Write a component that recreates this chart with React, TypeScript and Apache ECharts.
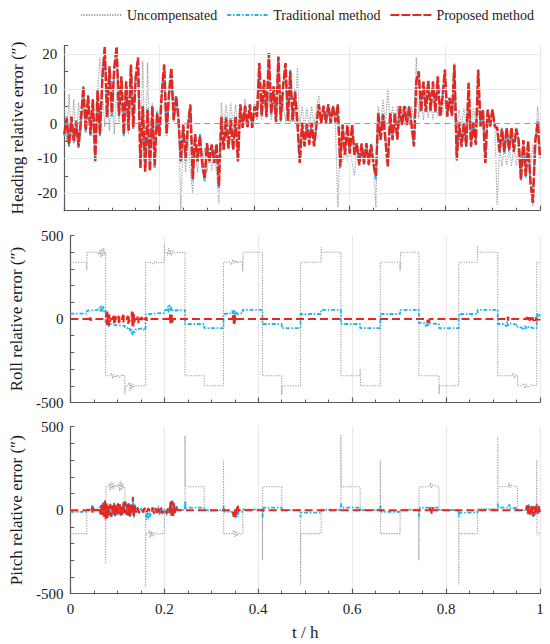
import React, { useEffect, useRef } from "react";
import * as echarts from "echarts";

const FONT = "'Liberation Serif', 'Times New Roman', serif";
const C_UNC = "#a2a2a2";
const C_TRAD = "#1fb4ef";
const C_PROP = "#e8261d";

const seriesNames = ["Uncompensated", "Traditional method", "Proposed method"];
const xTickLabels = ["0", "0.2", "0.4", "0.6", "0.8", "1"];
const panelNames = ["Heading relative error (″)", "Roll relative error (″)", "Pitch relative error (″)"];
const headingGridValues = [-20, -10, 10, 20];

// Heading: sampled every 0.005 h (201 samples, t = 0 … 1)
const headingStep = 0.005;
const headingUncompensated = [
  5, -5, 8.5, -4, 7, -5, 6, -3, 10, -2,
  8, -3.5, 6.5, -9, 9, 19, 10, -1, 9.5, -2,
  10, -3, 9, 0, 12, -2.5, 11, -3, 13, -1.5,
  12, 15, -11, 18, -12.5, 17.5, -12, 6, -11.5, 4,
  -3, 8.5, 12, -3, 8, 10, 0.5, 7.5, 1, -24.7,
  -3, -14, -3.5, -13.5, -20, -7, -14, -7.5, -13.5, -7,
  -14, -7, -13.5, -7.5, -14, -23, 6, -1, 5.5, -1,
  6, -1, 5.5, -1.5, 5, -1, 7, -1, 5, -1,
  5, 1, 8, 1, 7.5, 1.5, 8, 1, 7, 0,
  7, 0, 6.5, 0.5, 7, 0, 6, 0, 16, -1,
  5, -1, 4.5, -1, 5, -0.5, 4.5, 8, 0, 5.5,
  0, 5.5, 0.5, 5, 0, -24, -6, -11, -6.5, -10.8,
  -6, -11, -15, -6, -12, -6, -11.5, -6, -12, -6.5,
  -11.5, -24, 5, -1, 7, -1, 10, -0.5, 5, -1,
  5, -0.5, 5, -0.3, 4.8, -0.5, 5, 1, 19, 1.5,
  7, 1, 7.5, 1.5, 7, 1, 6.5, 2, 7, 2.5,
  7, 2, 7.5, 2, 17.4, -1, 4, -1, 4.5, -0.5,
  4, -1, 4.5, -0.5, 4, -0.8, 4, -1, 4.2, -0.8,
  4, -0.5, -23.3, -6.5, -12.3, -6.5, -12, -7, -12.3, -6.5,
  -12, -5, -12, -5.5, -11.5, -5, -12, -6, -11, 5, -3,
];
const headingTraditional = [
  -3.5, 2, -6.8, 2, -5.5, 1, -7, 1, 10.8, -2.5,
  8.3, -3.6, 7, -10.5, 9.8, -3.6, 13.6, 21, 1.6, 16,
  2, 15.5, 21.5, 2, 13.6, -3.6, 12.5, -2, 16.5, -1.5,
  13.6, 18.5, -12.5, 5, -14, 4.5, -13.5, 5, -12.7, 3.5,
  -3.6, 8.8, 16.5, -3.5, 8, 15.5, 1, 7.9, 1, -11,
  -0.5, -10.8, -0.3, 5, -16.5, -3, -11, -3, -11.5, -16.5,
  -5.6, -11.3, -6, -11, -6, -18.5, 1.5, -7.8, 2, -7.5,
  1.5, -7.5, 2, -11, 5.5, -1.2, 5.5, -1.2, 5, -1,
  5.5, 2.1, 17, 2, 12.6, 2.1, 20, 2.5, 10.7, 0.7,
  19, 0.7, 10.7, 17, 1, 15.5, 0.5, 9.5, 0.2, -11,
  0.5, -6.5, 0.2, -6.2, 0.5, -6.5, -0.3, 5.5, 0, 5.2,
  0.2, 5.5, 0, 5.2, 0.3, 5.5, -12.8, -0.3, -9, -0.5,
  -8.9, -0.5, -9, -5.6, -12, -5.6, -11.8, -5.5, -12, -5.8,
  -11.8, -16, 3, -4.8, 3, -4.6, -12, 3, -4.8, 3,
  -4.6, 5, -0.5, 5.2, -0.5, 5, -0.5, -6.8, 12.5, 14.5,
  3.5, 12.2, 3.3, 12.5, 3.5, 12.2, 3.3, 13.2, 2.1, 7.5,
  15, 2.1, 7.5, 2, 16.5, -10.8, 0.5, -6.8, 0.2, -6.8,
  11.2, -6.8, 0.5, -6.2, 15, -1, 4.2, -11.5, 4.2, -1,
  4.2, -1, -1.5, -8.5, -1.2, -8.6, -1.5, -8, -1.5, -8.3,
  -1.2, -5, -16.5, -5, -15.5, -5.5, -17, -23.5, -5.3, 0.8, -9.5,
];
const headingProposed = [
  -3, 1.5, -6, 2, -5, 0.5, -6.5, 1, 10.5, -2,
  8, -3, 7, -10.8, 9.5, -3, 13, 22, 2, 16.5,
  3, 16, 22, 2.5, 13.5, -3, 12, -2, 17, -1,
  13, 19, -12.7, 5, -13.7, 4, -13.7, 5, -12, 3,
  -3.5, 9, 17, -3, 8.5, 16, 1, 8, 1.5, -10.8,
  -0.3, -10, -0.5, 5.5, -16, -3, -10.8, -3.5, -11.3, -16,
  -5.6, -11, -6, -11.3, -5.8, -18, 2, -7.5, 1.5, -7,
  1, -7.5, 2, -10.8, 5.5, -1.2, 5, -1, 5.5, -1.2,
  5, 2, 17.4, 2.5, 12.6, 2, 20.3, 3, 10.7, 0.5,
  19.3, 1, 10.5, 17.4, 0.8, 15, 1, 9, 0.5, -11.3,
  0.2, -6.5, 0, -6, 0.2, -6.5, -0.5, 5.5, 0.2, 5,
  0.3, 5.5, 0.2, 5, 0.5, 5.5, -12.3, -0.3, -8.9, -0.5,
  -8.5, -0.3, -8.9, -5.6, -11.8, -5.8, -11.5, -5.6, -11.8, -6,
  -11.5, -15, 3, -4.6, 2.5, -4.5, -12.3, 3, -4.6, 2.8,
  -4.5, 5, -0.3, 5, -0.3, 4.8, -0.3, -6.5, 12.2, 15,
  3.5, 12, 3.5, 12.2, 3.8, 12, 3.5, 13.6, 2, 7.4,
  15.5, 2, 7.4, 2.2, 17, -10.3, 0.2, -6.5, 0, -6.5,
  11.7, -6.5, 0.2, -6, 15.5, -0.8, 4, -11.3, 4, -0.8,
  4, -0.8, -1.2, -8, -1.5, -8, -1.2, -7.5, -1.2, -8,
  -1.5, -4.7, -16, -4.7, -15, -5, -16.8, -22.8, -5, 0.3, -9.8,
];

// Roll: [t (h), error (″)]
const rollUncompensated = [
  [0, 340], [0.034, 340], [0.035, 290],
  [0.0355, 400], [0.058, 400], [0.061, 385], [0.063, 415], [0.065, 370], [0.067, 420], [0.069, 378], [0.071, 425], [0.073, 385], [0.075, 400],
  [0.075, -340], [0.085, -340], [0.088, -325], [0.09, -355], [0.093, -330], [0.096, -350], [0.1, -335], [0.105, -350], [0.11, -330], [0.114, -345], [0.116, -340], [0.116, -450],
  [0.117, -400], [0.122, -400], [0.125, -380], [0.127, -430], [0.129, -385], [0.131, -420], [0.133, -390], [0.136, -405], [0.14, -400], [0.16, -400],
  [0.16, 340], [0.17, 340], [0.175, 330], [0.18, 345], [0.185, 335], [0.2, 340], [0.2, 446],
  [0.201, 400], [0.205, 400], [0.207, 380], [0.209, 425], [0.211, 385], [0.213, 415], [0.215, 380], [0.218, 410], [0.222, 395], [0.244, 400],
  [0.244, -340], [0.285, -340],
  [0.285, -400], [0.326, -400],
  [0.326, 340], [0.34, 340], [0.343, 325], [0.346, 355], [0.349, 330], [0.352, 350], [0.355, 335], [0.358, 345], [0.366, 340], [0.367, 286],
  [0.368, 400], [0.409, 400],
  [0.409, -340], [0.45, -340], [0.45, -454],
  [0.451, -400], [0.49, -400],
  [0.49, 340], [0.534, 340], [0.534, 430],
  [0.535, 400], [0.576, 400],
  [0.576, -340], [0.617, -340], [0.617, -300],
  [0.618, -400], [0.66, -400],
  [0.66, 340], [0.702, 340], [0.702, 290],
  [0.703, 400], [0.742, 400],
  [0.742, -340], [0.785, -340], [0.785, -450],
  [0.786, -400], [0.827, -400],
  [0.827, 340], [0.867, 340], [0.867, 440],
  [0.868, 400], [0.91, 400],
  [0.91, -340], [0.94, -340], [0.943, -325], [0.946, -355], [0.949, -335], [0.952, -340],
  [0.952, -400], [0.96, -400], [0.965, -385], [0.968, -415], [0.971, -390], [0.975, -410], [0.98, -395], [0.993, -400],
  [0.993, 340], [1, 340],
];
const rollTraditional = [
  [0, 32], [0.035, 32],
  [0.035, 50], [0.05, 52], [0.058, 55], [0.062, 70], [0.064, 45], [0.066, 80], [0.068, 40], [0.07, 75], [0.072, 45], [0.075, 55],
  [0.075, -30], [0.08, -20], [0.082, -45], [0.085, -30], [0.09, -32], [0.1, -38], [0.11, -40], [0.116, -42],
  [0.116, -50], [0.122, -55], [0.125, -50], [0.128, -75], [0.13, -60], [0.132, -95], [0.134, -65], [0.136, -85], [0.14, -60], [0.15, -58], [0.155, -55], [0.157, -70], [0.16, -55],
  [0.16, 28], [0.17, 30], [0.18, 32], [0.19, 35], [0.2, 35],
  [0.2, 50], [0.205, 55], [0.207, 75], [0.209, 40], [0.211, 85], [0.213, 45], [0.215, 70], [0.218, 50], [0.244, 55],
  [0.244, -30], [0.285, -30],
  [0.285, -55], [0.326, -55],
  [0.326, 30], [0.34, 32], [0.345, 50], [0.347, 15], [0.349, 55], [0.351, 10], [0.353, 45], [0.355, 30], [0.367, 35],
  [0.367, 55], [0.409, 55],
  [0.409, -30], [0.45, -30],
  [0.45, -55], [0.49, -55],
  [0.49, 30], [0.534, 30],
  [0.534, 55], [0.576, 55],
  [0.576, -30], [0.617, -30],
  [0.617, -55], [0.66, -55],
  [0.66, 30], [0.702, 30],
  [0.702, 55], [0.742, 55],
  [0.742, -25], [0.755, -25], [0.757, -45], [0.759, -15], [0.761, -40], [0.763, -25], [0.785, -30],
  [0.785, -55], [0.827, -55],
  [0.827, 30], [0.867, 30],
  [0.867, 55], [0.91, 55],
  [0.91, -30], [0.925, -30], [0.928, -45], [0.93, -15], [0.932, -40], [0.935, -25], [0.952, -35],
  [0.952, -50], [0.96, -50], [0.965, -65], [0.968, -40], [0.972, -60], [0.976, -45], [0.985, -55], [0.993, -55],
  [0.993, 20], [0.995, 35], [0.997, 10], [1, 30],
];
const rollProposed = [
  [0, 0], [0.04, 0], [0.041, 12], [0.042, -10], [0.043, 10], [0.044, -8], [0.046, 0], [0.075, 0],
  [0.077, 40], [0.078, -35], [0.079, 45], [0.08, -30], [0.081, 30], [0.082, -40], [0.083, 25], [0.084, -20], [0.086, 0], [0.09, 0],
  [0.092, 25], [0.093, -25], [0.094, 20], [0.095, -30], [0.096, 15], [0.098, 0], [0.1, 0],
  [0.102, 20], [0.103, -25], [0.104, 15], [0.105, -20], [0.107, 0], [0.11, 0],
  [0.112, 25], [0.113, -20], [0.114, 20], [0.116, 0], [0.12, 0],
  [0.122, 20], [0.123, -30], [0.124, 25], [0.125, -20], [0.127, 0], [0.13, 0],
  [0.131, 45], [0.132, -50], [0.133, 40], [0.134, -45], [0.135, 30], [0.136, -20], [0.138, 0], [0.142, 0],
  [0.144, 20], [0.145, -25], [0.146, 15], [0.148, 0], [0.15, 0], [0.152, 12], [0.153, -15], [0.155, 0], [0.16, 0],
  [0.162, 10], [0.163, -10], [0.165, 0], [0.21, 0],
  [0.212, 30], [0.213, -35], [0.214, 35], [0.215, -30], [0.216, 25], [0.217, -20], [0.219, 0], [0.345, 0],
  [0.347, 30], [0.348, -30], [0.349, 25], [0.35, -25], [0.351, 20], [0.353, 0], [0.76, 0],
  [0.761, -25], [0.762, -5], [0.763, -30], [0.765, 0], [0.93, 0],
  [0.931, 15], [0.932, -10], [0.933, 12], [0.935, 0], [0.97, 0],
  [0.972, 12], [0.974, -12], [0.976, 10], [0.978, -10], [0.98, 12], [0.982, -8], [0.984, 10], [0.986, -12],
  [0.988, 8], [0.99, -10], [0.992, 10], [0.994, -8], [0.996, 8], [0.998, -6], [1, 0],
];

// Pitch: [t (h), error (″)]
const pitchUncompensated = [
  [0, -140], [0.035, -140], [0.035, 5], [0.075, 5], [0.075, -320],
  [0.0755, 140], [0.08, 140], [0.083, 160], [0.085, 120], [0.087, 170], [0.089, 125], [0.091, 165], [0.093, 130], [0.095, 150], [0.1, 140],
  [0.103, 165], [0.105, 115], [0.107, 175], [0.109, 120], [0.111, 160], [0.113, 135], [0.116, 140], [0.116, 5], [0.16, 5], [0.16, -460],
  [0.1605, -140], [0.165, -140], [0.168, -120], [0.17, -165], [0.172, -125], [0.174, -160], [0.176, -130], [0.178, -150], [0.182, -135],
  [0.185, -145], [0.19, -140], [0.2, -140], [0.2, 5], [0.244, 5], [0.244, 446],
  [0.2445, 140], [0.285, 140], [0.285, -5], [0.326, -5], [0.326, 300],
  [0.3265, -140], [0.345, -140], [0.348, -120], [0.35, -160], [0.352, -125], [0.355, -155], [0.358, -135], [0.362, -145], [0.367, -140],
  [0.367, 5], [0.409, 5], [0.409, -300], [0.4095, 140], [0.45, 140], [0.45, 0], [0.49, 0], [0.49, -450],
  [0.4905, -140], [0.534, -140], [0.534, 5], [0.576, 5], [0.576, 450], [0.5765, 140], [0.617, 140], [0.617, 0],
  [0.66, 0], [0.66, 300], [0.6605, -140], [0.702, -140], [0.702, 5], [0.742, 5], [0.742, -300],
  [0.7425, 140], [0.765, 140], [0.767, 165], [0.769, 130], [0.771, 150], [0.785, 140], [0.785, 0], [0.827, 0], [0.827, -450],
  [0.8275, -140], [0.867, -140], [0.867, 8], [0.91, 8], [0.91, 440],
  [0.9105, 140], [0.932, 140], [0.934, 165], [0.936, 135], [0.938, 150], [0.952, 140], [0.952, 0], [0.993, 0], [0.993, 300],
  [0.9935, -140], [0.996, -150], [1, -130],
];
const pitchTraditional = [
  [0, -10], [0.035, -10], [0.035, 3], [0.045, 3], [0.046, 30], [0.047, -10], [0.048, 25], [0.05, 3], [0.06, 3],
  [0.062, 20], [0.064, -20], [0.066, 35], [0.068, -15], [0.07, 40], [0.072, -25], [0.074, 60], [0.075, -40],
  [0.077, 45], [0.079, -50], [0.081, 30], [0.083, -35], [0.085, 40], [0.087, -45], [0.089, 30], [0.091, -30],
  [0.093, 50], [0.095, -40], [0.097, 35], [0.099, -30], [0.101, 45], [0.103, -25], [0.105, 40], [0.107, -35],
  [0.109, 30], [0.111, -30], [0.113, 50], [0.115, -20], [0.117, 55], [0.119, -30], [0.121, 40], [0.123, -35],
  [0.125, 45], [0.127, -40], [0.129, 35], [0.131, -30], [0.133, 75], [0.135, -45], [0.137, 35], [0.14, -15],
  [0.143, 20], [0.146, -20], [0.15, 10], [0.155, -15], [0.158, 15], [0.16, -15], [0.162, -60], [0.164, -15],
  [0.166, -50], [0.168, -10], [0.17, -40], [0.172, -15], [0.175, 20], [0.178, -25], [0.181, 15], [0.184, -20],
  [0.187, 25], [0.19, -30], [0.193, 20], [0.196, -25], [0.2, 5], [0.205, -30], [0.208, 15], [0.211, -20],
  [0.213, 55], [0.215, -35], [0.217, 60], [0.219, -40], [0.221, 45], [0.223, -20], [0.225, 30], [0.23, 0],
  [0.244, 0], [0.244, 56], [0.246, 15], [0.285, 15], [0.285, 0], [0.326, 0], [0.326, 30], [0.328, -10],
  [0.345, -10], [0.348, -45], [0.35, -5], [0.352, -50], [0.354, -10], [0.356, -40], [0.358, -10], [0.367, -10],
  [0.367, 3], [0.409, 3], [0.409, -44], [0.411, 15], [0.45, 15], [0.45, 0], [0.49, 0], [0.49, -40], [0.492, -15],
  [0.534, -15], [0.534, 0], [0.576, 0], [0.576, 40], [0.578, 15], [0.617, 15], [0.617, 0], [0.66, 0], [0.66, 30],
  [0.662, -10], [0.702, -10], [0.702, 0], [0.742, 0], [0.742, -40], [0.744, 15], [0.785, 15], [0.785, 0],
  [0.827, 0], [0.827, -40], [0.829, -15], [0.867, -15], [0.867, 3], [0.91, 3], [0.91, 40], [0.912, 15],
  [0.933, 15], [0.935, 35], [0.937, 10], [0.952, 15], [0.952, 0], [0.97, 0], [0.972, 30], [0.974, -25],
  [0.976, 35], [0.978, -30], [0.98, 25], [0.982, -35], [0.984, 30], [0.986, -40], [0.988, 25], [0.99, -30],
  [0.993, 40], [0.995, -25], [0.997, 30], [1, -15],
];
const pitchProposed = [
  [0, 0], [0.045, 0], [0.046, 20], [0.047, -15], [0.048, 18], [0.05, 0], [0.06, 0], [0.062, 15], [0.064, -25],
  [0.066, 30], [0.068, -30], [0.07, 45], [0.072, -40], [0.074, 55], [0.075, -55], [0.077, 40], [0.079, -45],
  [0.081, 25], [0.083, -30], [0.085, 35], [0.087, -40], [0.089, 25], [0.091, -25], [0.093, 45], [0.095, -35],
  [0.097, 30], [0.099, -25], [0.101, 40], [0.103, -20], [0.105, 35], [0.107, -30], [0.109, 25], [0.111, -25],
  [0.113, 45], [0.115, -15], [0.117, 50], [0.119, -25], [0.121, 35], [0.123, -30], [0.125, 40], [0.127, -35],
  [0.129, 30], [0.131, -25], [0.133, 80], [0.135, -40], [0.137, 30], [0.14, -12], [0.143, 18], [0.146, -18],
  [0.15, 8], [0.155, -12], [0.158, 12], [0.162, -15], [0.166, 12], [0.17, -12], [0.175, 15], [0.178, -18],
  [0.181, 12], [0.184, -15], [0.187, 18], [0.19, -20], [0.193, 15], [0.196, -18], [0.2, 5], [0.205, -20],
  [0.208, 12], [0.211, -15], [0.213, 50], [0.215, -30], [0.217, 55], [0.219, -35], [0.221, 40], [0.223, -15],
  [0.225, 25], [0.228, 0], [0.345, 0], [0.348, -40], [0.35, 5], [0.352, -45], [0.354, 0], [0.356, 35],
  [0.358, -5], [0.36, 0], [0.765, 0], [0.767, 25], [0.769, -20], [0.771, 20], [0.773, 0], [0.97, 0],
  [0.972, 25], [0.974, -20], [0.976, 30], [0.978, -25], [0.98, 20], [0.982, -30], [0.984, 25], [0.986, -35],
  [0.988, 20], [0.99, -25], [0.993, 35], [0.995, -20], [0.997, 25], [1, -10],
];

const headingRange = [-25, 22.5];
const attRange = [-500, 500];

function toPairs(vals: number[]) {
  return vals.map((v, i) => [Math.round(i * headingStep * 1000) / 1000, v]);
}

export default function App() {
  const ref = useRef<HTMLDivElement>(null);
  useEffect(() => {
    if (!ref.current) return;
    const chart = echarts.init(ref.current, undefined, { renderer: "svg" });
    const grids = [
      { left: 64.3, right: 10, top: 45.3, height: 165.4 },
      { left: 64.3, right: 10, top: 235.5, height: 167 },
      { left: 64.3, right: 10, top: 426.7, height: 167 },
    ];
    const axisColor = "#5a5a5a";
    const textColor = "#1a1a1a";
    const xAxes = grids.map((_, gi) => ({
      type: "value",
      gridIndex: gi,
      min: 0,
      max: 1,
      interval: 0.2,
      axisLine: { show: true, onZero: false, lineStyle: { color: axisColor, width: 1.2 } },
      axisTick: { show: true, inside: true, length: 5, lineStyle: { color: axisColor, width: 1.2 } },
      minorTick: { show: true, splitNumber: 4, length: 3, lineStyle: { color: axisColor, width: 1 } },
      splitLine: { show: true, lineStyle: { color: "#e8e8e8", width: 1 } },
      axisLabel: {
        show: gi === 2,
        fontFamily: FONT,
        fontSize: 15,
        color: textColor,
        margin: 8,
        formatter: (v: number) => {
          const idx = Math.round(v / 0.2);
          return xTickLabels[idx] ?? "";
        },
      },
      name: gi === 2 ? "t / h" : "",
      nameLocation: "middle",
      nameGap: 30,
      nameTextStyle: { fontFamily: FONT, fontSize: 17, color: textColor },
    }));
    const yAxes = grids.map((_, gi) => {
      const heading = gi === 0;
      const r = heading ? headingRange : attRange;
      return {
        type: "value",
        gridIndex: gi,
        min: r[0],
        max: r[1],
        interval: heading ? 5 : 100,
        axisLine: { show: true, onZero: false, lineStyle: { color: axisColor, width: 1.2 } },
        axisTick: { show: true, inside: true, length: 4, lineStyle: { color: axisColor, width: 1 } },
        splitLine: { show: false },
        axisLabel: {
          fontFamily: FONT,
          fontSize: 15,
          color: textColor,
          margin: 7,
          formatter: (v: number) => {
            if (heading) return Math.abs(v % 10) < 1e-6 ? String(v) : "";
            return Math.abs(v % 500) < 1e-6 ? String(v) : "";
          },
        },
        name: panelNames[gi],
        nameLocation: "middle",
        nameGap: 30,
        nameTextStyle: { fontFamily: FONT, fontSize: 17, color: textColor },
      };
    });

    const mk = (name: string, gi: number, data: number[][]) => {
      const heading = gi === 0;
      const style =
        name === seriesNames[0]
          ? { color: C_UNC, width: heading ? 1.2 : 1.1, type: [1.3, 1.3] }
          : name === seriesNames[1]
          ? { color: C_TRAD, width: heading ? 2 : 1.8, type: [4, 1.8, 1.5, 1.8] }
          : { color: C_PROP, width: heading ? 2.5 : 2, type: heading ? [9, 2] : [8, 4] };
      const s: any = {
        type: "line",
        name,
        xAxisIndex: gi,
        yAxisIndex: gi,
        data,
        symbol: "none",
        showSymbol: false,
        lineStyle: style,
        itemStyle: { color: style.color },
        silent: true,
        z: name === seriesNames[0] ? 1 : name === seriesNames[1] ? 2 : 3,
      };
      if (heading && name === seriesNames[0]) {
        s.markLine = {
          silent: true,
          symbol: "none",
          label: { show: false },
          data: [
            ...headingGridValues.map((v) => ({
              yAxis: v,
              lineStyle: { color: "#e8e8e8", type: "solid", width: 1 },
            })),
            { yAxis: 0, lineStyle: { color: "#9a9a9a", type: [6, 4], width: 1.2 } },
          ],
        };
      }
      return s;
    };

    const series = [
      mk(seriesNames[0], 0, toPairs(headingUncompensated)),
      mk(seriesNames[1], 0, toPairs(headingTraditional)),
      mk(seriesNames[2], 0, toPairs(headingProposed)),
      mk(seriesNames[0], 1, rollUncompensated),
      mk(seriesNames[1], 1, rollTraditional),
      mk(seriesNames[2], 1, rollProposed),
      mk(seriesNames[0], 2, pitchUncompensated),
      mk(seriesNames[1], 2, pitchTraditional),
      mk(seriesNames[2], 2, pitchProposed),
    ];

    chart.setOption({
      animation: false,
      backgroundColor: "#ffffff",
      legend: {
        data: seriesNames,
        top: 3,
        left: 75,
        itemWidth: 41,
        itemHeight: 10,
        itemGap: 9,
        itemStyle: { color: "transparent", borderColor: "transparent", borderWidth: 0 },
        textStyle: { fontFamily: FONT, fontSize: 14, color: "#222" },
      },
      grid: grids,
      xAxis: xAxes,
      yAxis: yAxes,
      series,
    });
    return () => chart.dispose();
  }, []);
  return (
    <div
      ref={ref}
      style={{ position: "absolute", left: 0, top: 0, width: 550, height: 644 }}
    />
  );
}
